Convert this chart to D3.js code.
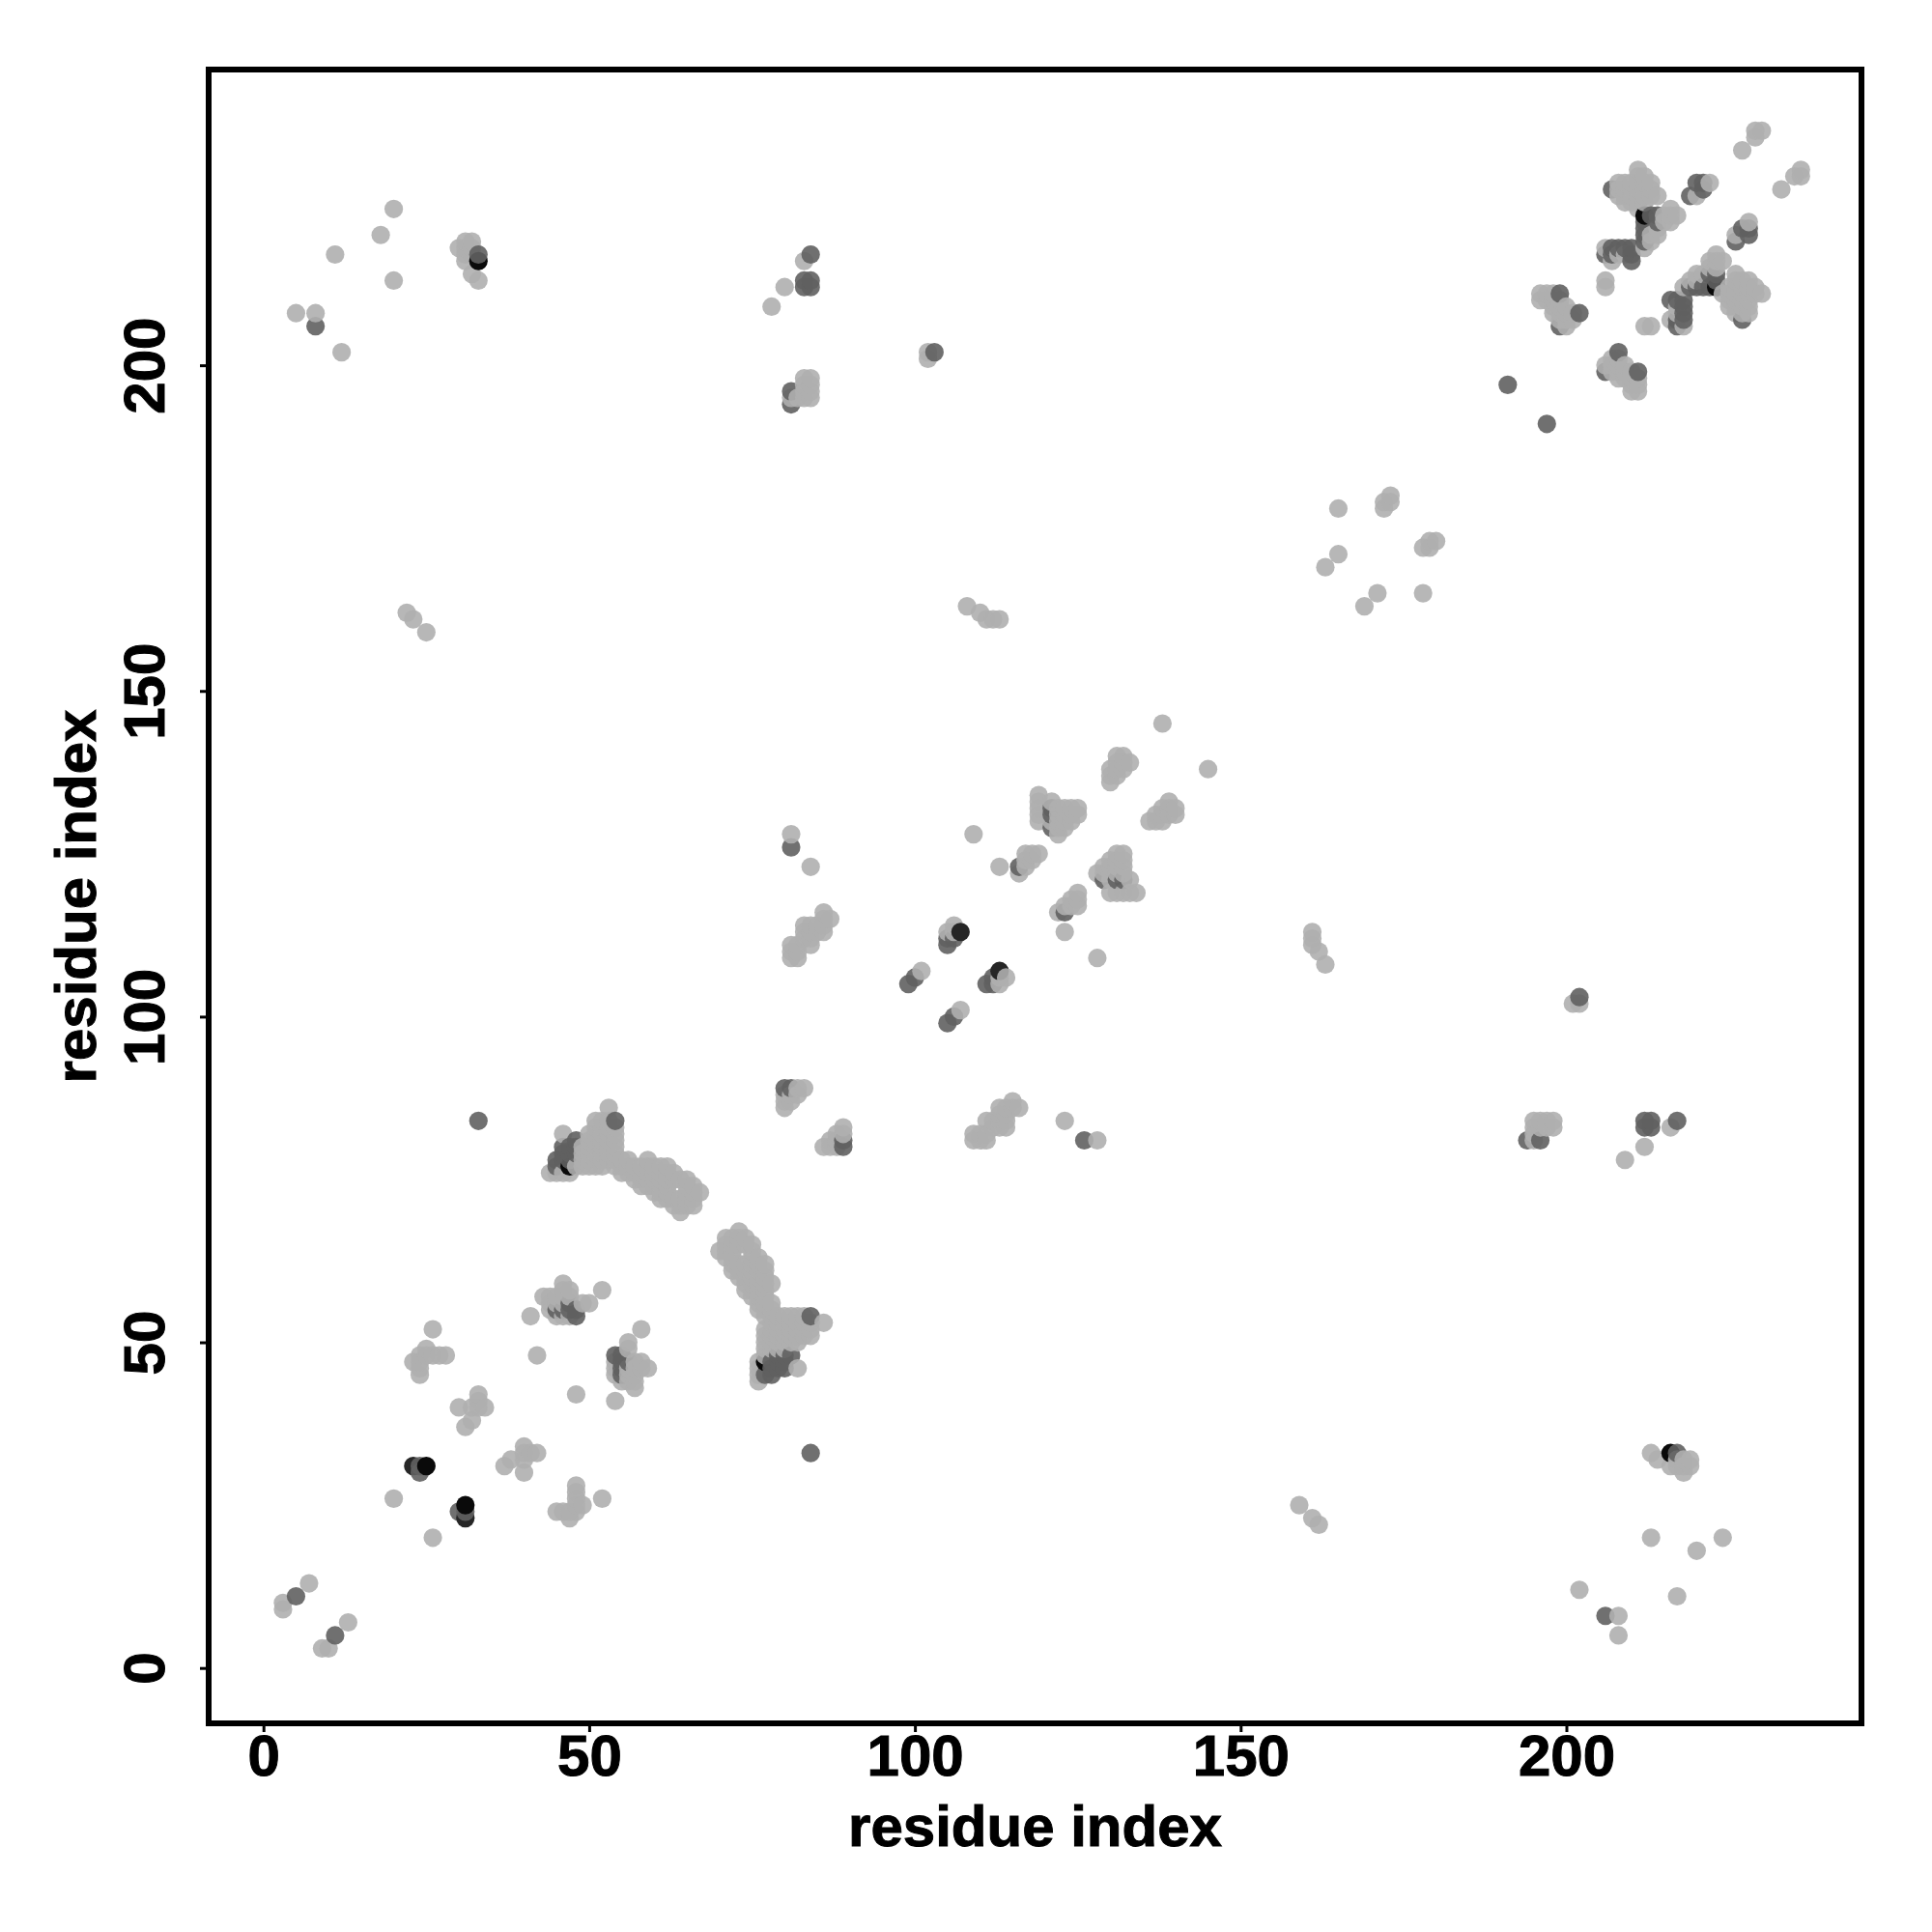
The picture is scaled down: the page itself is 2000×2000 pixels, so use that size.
<!DOCTYPE html>
<html>
<head>
<meta charset="utf-8">
<script src="https://cdn.jsdelivr.net/npm/d3@7"></script>
<style>
html,body{margin:0;padding:0;background:#fff}
svg{display:block}
text{font-family:"Liberation Sans",Arial,sans-serif;font-weight:700;fill:#000;stroke:#000;stroke-width:1px}
</style>
</head>
<body>
<svg id="chart" width="2000" height="2000"></svg>
<script>
const xTicks = [0, 50, 100, 150, 200];
const yTicks = [0, 50, 100, 150, 200];
const xTitle = "residue index";
const yTitle = "residue index";

// contacts as [residue a, residue b]; the map is symmetric, each is drawn at (a,b) and (b,a)
const lightPairs = [
[3,9],[3,10],[7,13],[20,26],[23,47],[24,45],[24,46],[24,47],[24,48],[25,48],[25,49],[26,48],[26,52],[27,48],[28,48],
[30,40],[32,40],[33,40],[34,40],[33,41],[33,42],[32,38],[31,37],[42,48],[41,54],[52,58],
[43,57],[44,57],[45,57],[46,57],[47,57],[46,58],[47,58],[46,59],[44,55],[44,56],[45,56],[46,56],[49,56],[50,56],[45,54],[46,54],[47,54],
[44,76],[45,76],[46,76],[47,76],[46,82],[48,77],
[49,77],[49,78],[49,79],[49,80],
[50,77],[50,78],[50,79],[50,80],[50,81],[50,82],
[51,77],[51,78],[51,79],[51,80],[51,81],[51,82],[51,83],[51,84],
[52,77],[52,78],[52,79],[52,80],[52,81],[52,82],[52,83],[52,84],
[53,78],[53,79],[53,80],[53,81],[53,82],[53,83],[53,84],[53,86],
[54,77],[54,78],[54,79],[54,80],[54,81],[54,82],[54,83],
[55,76],[55,77],[55,78],[56,76],[56,77],[56,78],[57,75],[57,76],[57,77],
[58,74],[58,75],[58,76],[58,77],[59,74],[59,75],[59,76],[59,77],[59,78],
[60,73],[60,74],[60,75],[60,76],[60,77],[61,72],[61,73],[61,74],[61,75],[61,76],[61,77],
[62,72],[62,73],[62,74],[62,75],[62,76],[62,77],[63,71],[63,72],[63,75],[63,76],
[64,70],[64,71],[64,72],[64,75],[65,71],[65,72],[65,73],[65,74],[65,75],[66,71],[66,72],[66,73],[66,74],[67,73],
[80,86],[81,87],[82,88],[80,87],[80,88],[81,88],[82,89],[83,89],
[81,128],[84,123],
[81,109],[81,110],[81,111],[82,109],[82,110],[82,111],[83,112],[83,113],[83,114],[84,111],[84,112],[84,113],[84,114],[85,113],[85,114],[86,113],[86,114],[86,115],[86,116],[87,115],
[101,107],[105,113],[106,113],[106,114],[109,128],[113,123],[116,122],
[117,123],[117,124],[117,125],[118,124],[118,125],[119,125],
[119,130],[119,131],[119,132],[119,133],[119,134],
[121,130],[121,133],[122,128],[122,129],[122,130],[122,131],[122,132],[123,129],[123,130],[123,131],[123,132],[124,130],[124,131],[124,132],[125,131],[125,132],
[130,136],[130,137],[130,138],[131,137],[131,138],[131,139],[131,140],[132,138],[132,139],[132,140],[133,139],[138,145],
[20,213],[20,224],[18,220],[11,217],[12,202],[5,208],[8,208],
[30,218],[31,216],[31,217],[31,218],[31,219],[32,214],[32,217],[32,218],[32,219],[33,213],
[22,162],[23,161],[25,159],
[78,209],[80,212],[83,216],
[81,195],[82,195],[83,195],[83,196],[83,197],[83,198],[84,195],[84,196],[84,197],[84,198],
[102,201],[102,202],[108,163],[110,162],[111,161],[112,161],[113,161],
[163,169],[165,171],[165,178],[172,178],[172,179],[173,179],[173,180],
[196,210],[196,211],[197,210],[197,211],[198,208],[198,209],[198,210],[198,211],[199,207],[199,208],[199,209],[199,210],[200,206],[200,207],[200,208],[200,209],[201,207],[201,208],
[206,212],[206,213],[206,218],[207,216],[208,217],[209,217],
[208,226],[208,227],[208,228],[209,225],[209,226],[209,227],[209,228],[210,225],[210,226],[210,227],[210,228],
[211,224],[211,225],[211,226],[211,227],[211,228],[211,229],[211,230],[212,225],[212,226],[212,227],[212,228],[212,229],[213,226],[213,227],[213,228],[214,226],
[212,218],[213,219],[213,220],[214,220],[214,221],[215,222],[215,223],[216,222],[216,223],[216,224],[217,223],
[220,226],[222,228],
[227,233],[229,235],[229,236],[230,236]
];
const midPairs = [
[5,11],[24,30],[24,31],[45,55],[46,55],[47,55],[47,56],[48,54],[48,55],
[45,77],[45,78],[46,78],[46,79],[46,80],[47,78],[47,79],[47,80],[48,79],[48,80],[48,81],[54,84],[33,84],
[80,89],[81,89],[81,126],[81,126],
[99,105],[100,106],[105,111],[105,112],[106,112],[116,123],[121,129],[121,131],[121,132],
[8,206],[33,217],[84,217],[83,212],[83,213],[84,212],[84,213],[81,194],[81,196],[103,202],[191,197],
[199,206],[199,211],[202,208],[206,217],[207,217],[207,218],[208,218],[209,218],[210,216],[210,217],[210,218],[207,227],
[212,219],[212,220],[212,221],[212,222],[213,223],[214,222],[214,223],[219,226],[220,228],[221,227],[221,228],[81,126]
];
const darkPairs = [[23,31],[23,31],[107,113]];
const blackPairs = [[25,31],[47,77],[33,216],[212,223]];
const farPairs = [[89,80],[89,81]];
const farLightPairs = [[89,82],[89,83],[88,80]];
const lateMidPairs = [[126,81]];
const lateLightPairs = [[128,81],[109,81],[110,81],[111,81],[111,84],[112,84],[113,86],[114,83],[115,87],[116,86]];

const shades = [
  {pairs: lightPairs.concat(farLightPairs, lateLightPairs), fill: "#afafaf", opacity: 0.9},
  {pairs: midPairs.concat(farPairs, lateMidPairs),   fill: "#606060", opacity: 0.9},
  {pairs: darkPairs,  fill: "#262626", opacity: 1},
  {pairs: blackPairs, fill: "#0a0a0a", opacity: 1}
];

const svg = d3.select("#chart");
const x = d3.scaleLinear().domain([-8.41, 245.3]).range([216, 1927]);
const y = d3.scaleLinear().domain([-8.5, 245.4]).range([1784, 72]);

// symmetric expansion, then R-style drawing order: by x, then by y
const byKey = new Map();
shades.forEach(s => s.pairs.forEach(([a, b]) => {
  byKey.set(a + "," + b, {x: a, y: b, s});
  byKey.set(b + "," + a, {x: b, y: a, s});
}));
const points = Array.from(byKey.values()).sort((p, q) => p.x - q.x || p.y - q.y);

svg.append("g").selectAll("circle").data(points).join("circle")
  .attr("cx", d => x(d.x))
  .attr("cy", d => y(d.y))
  .attr("r", 9.6)
  .attr("fill", d => d.s.fill)
  .attr("fill-opacity", d => d.s.opacity);

const xAxis = svg.append("g").attr("transform", "translate(0,1784)")
  .call(d3.axisBottom(x).tickValues(xTicks).tickSize(9).tickFormat(d3.format("d")));
xAxis.select(".domain").remove();
xAxis.selectAll("line").attr("stroke", "#000").attr("stroke-width", 3);
xAxis.selectAll("text").attr("y", 54).attr("dy", 0).attr("font-size", 60).attr("text-anchor", "middle");

const yAxis = svg.append("g").attr("transform", "translate(216,0)")
  .call(d3.axisLeft(y).tickValues(yTicks).tickSize(9).tickFormat(d3.format("d")));
yAxis.select(".domain").remove();
yAxis.selectAll("line").attr("stroke", "#000").attr("stroke-width", 3);
yAxis.selectAll("text")
  .attr("x", 0).attr("y", 0).attr("dy", 0)
  .attr("text-anchor", "middle").attr("font-size", 60)
  .attr("transform", "translate(-46,0) rotate(-90)");

svg.append("rect")
  .attr("x", 216).attr("y", 72).attr("width", 1711).attr("height", 1712)
  .attr("fill", "none").attr("stroke", "#000").attr("stroke-width", 6);

svg.append("text").attr("x", 1071.5).attr("y", 1911)
  .attr("text-anchor", "middle").attr("font-size", 60).text(xTitle);
svg.append("text").attr("transform", "translate(99,928) rotate(-90)")
  .attr("text-anchor", "middle").attr("font-size", 60).text(yTitle);
</script>
</body>
</html>
